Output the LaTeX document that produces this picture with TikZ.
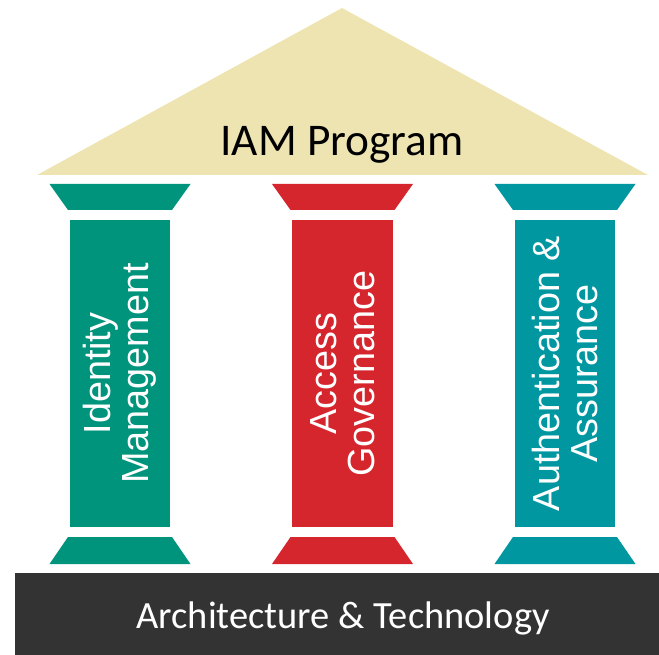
\documentclass[tikz,border=0pt]{standalone}
\usepackage{fontspec}
\setmainfont{Carlito}
\newfontfamily\pillarFont{Liberation Sans}
\usepackage{xcolor}
\definecolor{roofColor}{HTML}{EEE4B1}
\definecolor{identityColor}{HTML}{00947C}
\definecolor{governColor}{HTML}{D5262E}
\definecolor{authColor}{HTML}{0097A1}
\definecolor{baseDark}{HTML}{333333}
\usetikzlibrary{positioning}
\tikzset{
  roofShape/.style={
    fill=roofColor
 },
  roofText/.style={
    anchor=base,
    font=\fontsize{25.8}{30}\selectfont,
    text=black
 },
  shaftBox/.style={
    rectangle,
    minimum width=2.02cm,
    minimum height=6.14cm,
    inner sep=0pt
 },
  pillarText/.style={
    rotate=90,
    align=center,
    text=white,
    font=\pillarFont\fontsize{21.5}{21.5}\selectfont
 },
  baseBox/.style={
    rectangle,
    fill=baseDark,
    minimum width=12.88cm,
    minimum height=1.64cm,
    inner sep=0pt
 },
  baseText/.style={
    anchor=base,
    text=white,
    font=\fontsize{21.9}{26}\selectfont
 }
}

\begin{document}
\begin{tikzpicture}[x=0.02cm, y=-0.02cm]
  \useasboundingbox (0,0) rectangle (659,655);

  % roof
  \fill[roofShape] (37,175) -- (342,8) -- (648,175) -- cycle;
  \node[roofText] (program) at (342,156) {IAM Program};

  % three pillars: capital, shaft with its label, foot
  \foreach \cx/\col/\name/\txt in {
      120/identityColor/identity/{Identity\\Management},
      342.5/governColor/governance/{Access\\Governance},
      565/authColor/auth/{Authentication \&\\Assurance}}{
    \fill[\col] (\cx-70.5,184) -- (\cx+70.5,184) -- (\cx+52,210) -- (\cx-52,210) -- cycle;
    \node[shaftBox, fill=\col] (\name) at (\cx,373.5) {};
    \node[pillarText] (\name-label) at (\name.center) {\txt};
    \fill[\col] (\cx-52,537) -- (\cx+52,537) -- (\cx+70.5,564) -- (\cx-70.5,564) -- cycle;
  }

  % foundation
  \node[baseBox] (foundation) at (337,614) {};
  \node[baseText] (tech) at (343,628) {Architecture \& Technology};
\end{tikzpicture}
\end{document}
